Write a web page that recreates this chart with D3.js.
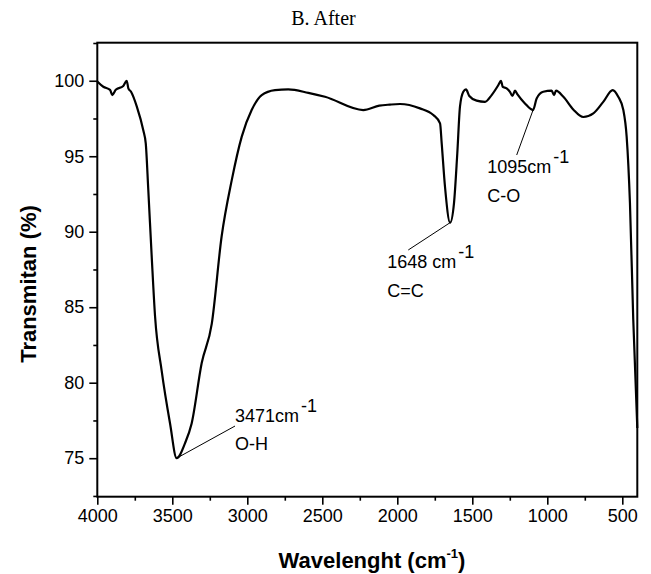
<!DOCTYPE html>
<html lang="en">
<head>
  <meta charset="UTF-8">
  <title>B. After - FTIR</title>
  <script src="https://d3js.org/d3.v7.min.js"></script>
  <style>
    body {
      margin: 0;
      background: #fff;
    }
    svg {
      display: block;
      font-family: 'Liberation Sans', Arial, sans-serif;
    }
    .frame {
      fill: none;
      stroke: #000;
      stroke-width: 2;
    }
    .spectrum {
      fill: none;
      stroke: #000;
      stroke-width: 2.2;
      stroke-linejoin: round;
    }
    .leader {
      stroke: #000;
      stroke-width: 1;
    }
    .tick-label {
      font-size: 18px;
      fill: #000;
    }
    .note {
      font-size: 18px;
      fill: #000;
    }
    .axis-title {
      font-size: 22px;
      font-weight: bold;
      fill: #000;
    }
    .chart-title {
      font-family: 'Liberation Serif', 'Times New Roman', serif;
      font-size: 20px;
      fill: #000;
    }
  </style>
</head>
<body>
  <svg width="651" height="574"></svg>
  <script>
    // spectrum (wavenumber in cm-1, transmittance in %)
    const wavenumber = [
      4000, 3960, 3915, 3900, 3877, 3827, 3804, 3793, 3775, 3737,
      3693, 3677, 3660, 3637, 3615, 3571, 3515, 3471, 3415, 3371,
      3304, 3237, 3171, 3104, 3037, 2971, 2904, 2815, 2727, 2593,
      2482, 2227, 2120, 2050, 1982, 1849, 1760, 1715, 1704, 1682,
      1648, 1622, 1600, 1582, 1560, 1542, 1520, 1471, 1415, 1371,
      1327, 1309, 1297, 1271, 1249, 1233, 1215, 1200, 1149, 1095,
      1071, 1027, 971, 955, 942, 893, 827, 760, 693, 627,
      564, 527, 493, 471, 449, 427, 400
    ];
    const transmittance = [
      99.95, 99.6, 99.4, 99.05, 99.4, 99.65, 100.0, 99.5, 99.27, 98.3,
      96.7, 95.85, 92.76, 88.3, 84.4, 80.8, 77.3, 75.0, 76.0, 77.3,
      81.3, 83.9, 89.7, 93.4, 96.3, 98.06, 99.05, 99.38, 99.43, 99.2,
      98.94, 98.06, 98.35, 98.42, 98.46, 98.17, 97.73, 97.18, 95.85, 92.98,
      90.6, 91.9, 95.2, 98.3, 99.27, 99.43, 98.99, 98.68, 98.6, 99.05,
      99.7, 100.0, 99.6, 99.5, 99.27, 99.0, 99.34, 99.12, 98.5, 98.06,
      98.83, 99.27, 99.34, 99.05, 99.34, 98.94, 98.1, 97.6, 97.84, 98.6,
      99.38, 98.94, 98.06, 96.3, 91.9, 84.2, 77.0
    ];

    const xTicks = [4000, 3500, 3000, 2500, 2000, 1500, 1000, 500];
    const xMinorTicks = [3750, 3250, 2750, 2250, 1750, 1250, 750];
    const yTicks = [75, 80, 85, 90, 95, 100];
    const yMinorTicks = [72.5, 77.5, 82.5, 87.5, 92.5, 97.5, 102.5];

    // peak labels, all in data units: marked point, leader end, text start
    const peakWn = [3471, 1648, 1095];
    const peakT = [75.0, 90.6, 98.06];
    const leaderWn = [3082, 1927, 1204];
    const leaderT = [77.13, 88.79, 95.08];
    const textWn = [3082, 2067, 1400];
    const textT = [77.42, 87.58, 93.87];
    const labelValue = ["3471cm", "1648 cm", "1095cm"];
    const labelBond = ["O-H", "C=C", "C-O"];

    const svg = d3.select("svg");
    const plot = { left: 97.3, right: 637.3, top: 42.7, bottom: 496.7 };

    const x = d3.scaleLinear().domain([4000, 400]).range([plot.left, plot.right]);
    const y = d3.scaleLinear().domain([72.45, 102.52]).range([plot.bottom, plot.top]);

    const data = wavenumber.map((w, i) => ({ w: w, t: transmittance[i] }));

    // frame
    svg.append("rect")
      .attr("class", "frame")
      .attr("x", plot.left)
      .attr("y", plot.top)
      .attr("width", plot.right - plot.left)
      .attr("height", plot.bottom - plot.top);

    // bottom axis
    const xAxis = svg.append("g")
      .attr("transform", `translate(0,${plot.bottom})`)
      .call(d3.axisBottom(x).tickValues(xTicks).tickSize(8).tickPadding(5).tickFormat(d3.format("d")));
    xAxis.select(".domain").remove();
    xAxis.selectAll(".tick line").attr("stroke-width", 1.6);
    xAxis.selectAll(".tick text").attr("class", "tick-label").attr("font-size", null).attr("font-family", null);

    const xMinor = svg.append("g")
      .attr("transform", `translate(0,${plot.bottom})`)
      .call(d3.axisBottom(x).tickValues(xMinorTicks).tickSize(4).tickFormat(""));
    xMinor.select(".domain").remove();
    xMinor.selectAll(".tick line").attr("stroke-width", 1.6);

    // left axis
    const yAxis = svg.append("g")
      .attr("transform", `translate(${plot.left},0)`)
      .call(d3.axisLeft(y).tickValues(yTicks).tickSize(8).tickPadding(5).tickFormat(d3.format("d")));
    yAxis.select(".domain").remove();
    yAxis.selectAll(".tick line").attr("stroke-width", 1.6);
    yAxis.selectAll(".tick text").attr("class", "tick-label").attr("font-size", null).attr("font-family", null);

    const yMinor = svg.append("g")
      .attr("transform", `translate(${plot.left},0)`)
      .call(d3.axisLeft(y).tickValues(yMinorTicks).tickSize(4).tickFormat(""));
    yMinor.select(".domain").remove();
    yMinor.selectAll(".tick line").attr("stroke-width", 1.6);

    // spectrum
    const line = d3.line()
      .x(d => x(d.w))
      .y(d => y(d.t))
      .curve(d3.curveMonotoneX);

    svg.append("path")
      .datum(data)
      .attr("class", "spectrum")
      .attr("d", line);

    // peak annotations
    peakWn.forEach((w, i) => {
      svg.append("line")
        .attr("class", "leader")
        .attr("x1", x(w))
        .attr("y1", y(peakT[i]))
        .attr("x2", x(leaderWn[i]))
        .attr("y2", y(leaderT[i]));

      const tx = x(textWn[i]);
      const ty = y(textT[i]);
      const t1 = svg.append("text")
        .attr("class", "note")
        .attr("x", tx)
        .attr("y", ty)
        .text(labelValue[i]);
      t1.append("tspan")
        .attr("dy", -10)
        .attr("dx", 2)
        .text("-1");
      svg.append("text")
        .attr("class", "note")
        .attr("x", tx)
        .attr("y", ty + 28.5)
        .text(labelBond[i]);
    });

    // titles
    svg.append("text")
      .attr("class", "chart-title")
      .attr("x", 323.5)
      .attr("y", 25)
      .attr("text-anchor", "middle")
      .text("B. After");

    const xt = svg.append("text")
      .attr("class", "axis-title")
      .attr("x", 372)
      .attr("y", 568)
      .attr("text-anchor", "middle");
    xt.append("tspan").text("Wavelenght (cm");
    xt.append("tspan").attr("font-size", 13).attr("dy", -10).text("-1");
    xt.append("tspan").attr("dy", 10).text(")");

    svg.append("text")
      .attr("class", "axis-title")
      .attr("transform", "translate(36,284) rotate(-90)")
      .attr("text-anchor", "middle")
      .text("Transmitan (%)");
  </script>
</body>
</html>
